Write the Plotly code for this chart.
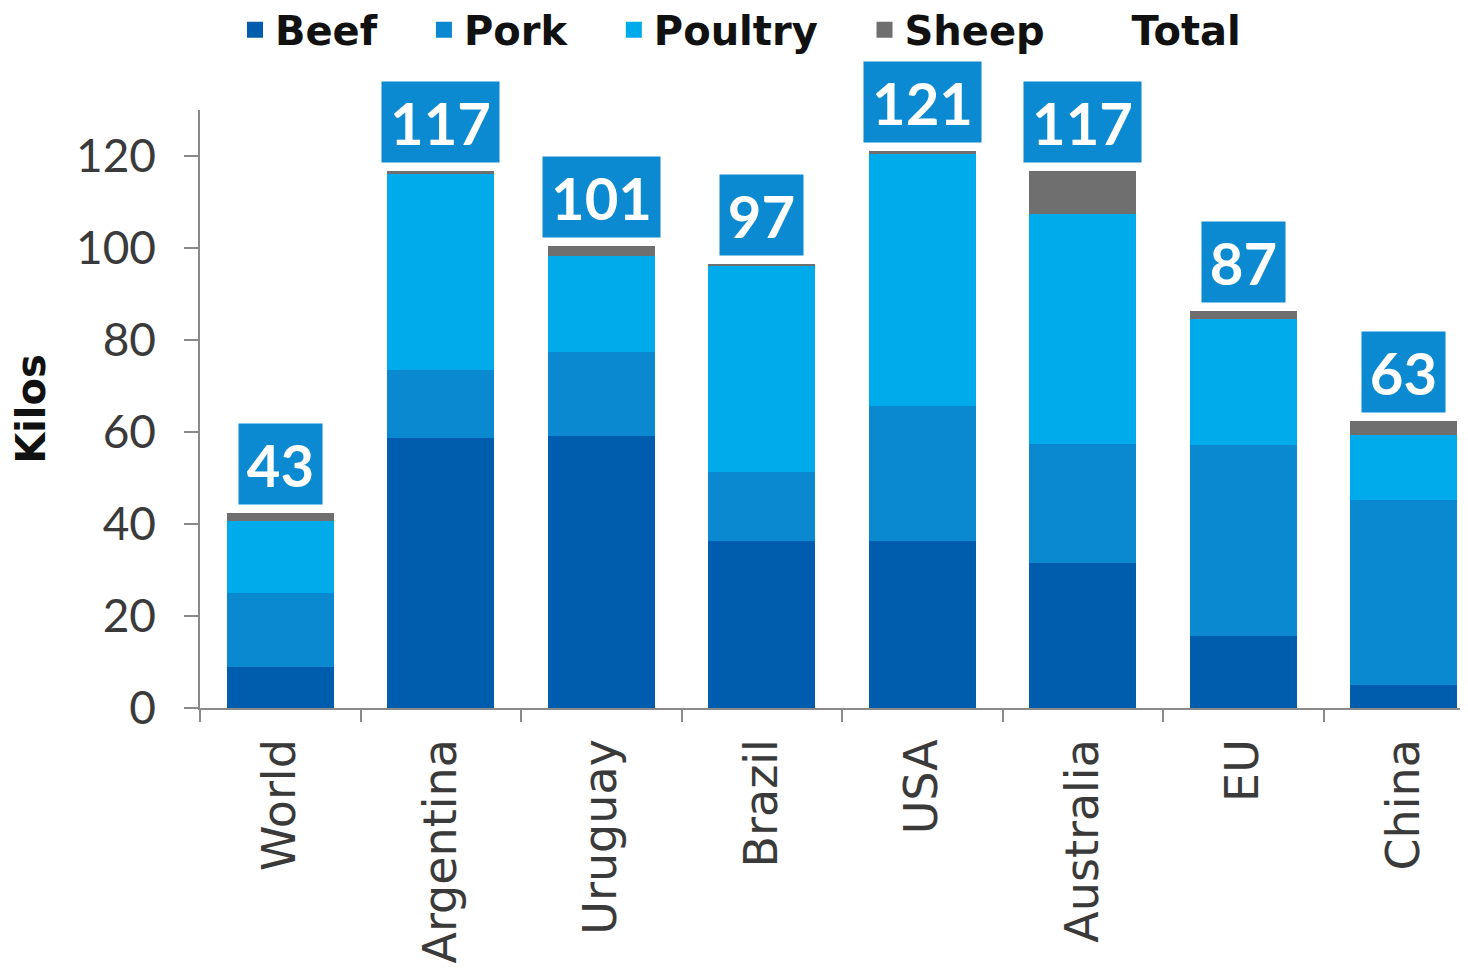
import plotly.graph_objects as go

countries = ["World", "Argentina", "Uruguay", "Brazil", "USA", "Australia", "EU", "China"]
beef = [9.0, 58.7, 59.1, 36.3, 36.3, 31.6, 15.6, 5.0]
pork = [15.9, 14.8, 18.3, 15.0, 29.3, 25.9, 41.5, 40.2]
poultry = [15.8, 42.6, 20.8, 44.9, 55.0, 49.9, 27.4, 14.1]
sheep = [1.7, 0.7, 2.3, 0.4, 0.4, 9.4, 1.8, 3.1]
totals = [43, 117, 101, 97, 121, 117, 87, 63]

colors = {"Beef": "#005DAE", "Pork": "#0A89D0", "Poultry": "#00ABEC", "Sheep": "#6F6F6F"}
box_color = "#0B8AD2"
font_family = "Lato, 'Open Sans', sans-serif"
wide_family = "'DejaVu Sans', sans-serif"
pad = "\u00a0\u00a0\u00a0"

fig = go.Figure()
for name, vals in [("Beef", beef), ("Pork", pork), ("Poultry", poultry), ("Sheep", sheep)]:
    fig.add_trace(go.Bar(x=countries, y=vals, name=name, legendgroup=name, showlegend=False,
                         marker=dict(color=colors[name], line=dict(width=0))))
# legend entries with larger square symbols
for name in ["Beef", "Pork", "Poultry", "Sheep"]:
    fig.add_trace(go.Scatter(x=[None], y=[None], name=name + pad, legendgroup=name, mode="markers",
                             marker=dict(symbol="square", size=24, color=colors[name])))

stack_top = [b + p + q + s for b, p, q, s in zip(beef, pork, poultry, sheep)]
fig.add_trace(go.Scatter(x=countries, y=stack_top, name="Total", mode="markers",
                         marker=dict(opacity=0, size=1, color="rgba(0,0,0,0)",
                                     line=dict(width=0, color="rgba(0,0,0,0)")),
                         hoverinfo="skip"))

for c, top, tot in zip(countries, stack_top, totals):
    txt = str(tot)
    fig.add_annotation(x=c, y=top, text="<b>%s</b>" % txt, showarrow=False,
                       xanchor="center", yanchor="bottom", yshift=8,
                       bgcolor=box_color, borderpad=0,
                       width=83 if len(txt) == 2 else 117, height=80,
                       font=dict(family=font_family, size=58, color="white"))

fig.update_layout(
    width=1468, height=977,
    margin=dict(l=192, r=8, t=102, b=277, autoexpand=False),
    barmode="stack", bargap=0.333,
    plot_bgcolor="white", paper_bgcolor="white",
    font=dict(family=font_family, color="#3a3a3a"),
    showlegend=True,
    legend=dict(orientation="h", x=0.0276, xanchor="left", y=1.134, yref="paper",
                yanchor="middle", font=dict(size=40, color="#111111", family=wide_family, weight="bold"),
                traceorder="normal", itemwidth=30, bgcolor="rgba(0,0,0,0)",
                itemsizing="trace"),
    xaxis=dict(range=[-0.5, 7.4], tickangle=-90, tickson="boundaries",
               ticks="outside", ticklen=12, tickcolor="#8a8a8a", tickwidth=1.5,
               showline=True, linecolor="#8a8a8a", linewidth=1.5,
               tickfont=dict(size=46, color="#3a3a3a", family=wide_family), ticklabelstandoff=11,
               showgrid=False, fixedrange=True),
    yaxis=dict(range=[0, 130], tickvals=[0, 20, 40, 60, 80, 100, 120],
               ticks="outside", ticklen=14, tickcolor="#8a8a8a", tickwidth=1.5,
               showline=True, linecolor="#8a8a8a", linewidth=1.5,
               tickfont=dict(size=46, color="#3a3a3a"), ticklabelstandoff=19,
               showgrid=False, zeroline=False,
               title=dict(text="<b>Kilos</b>", font=dict(size=40, color="#111111", family=wide_family),
                          standoff=20)),
)

fig.write_html("out.html")
